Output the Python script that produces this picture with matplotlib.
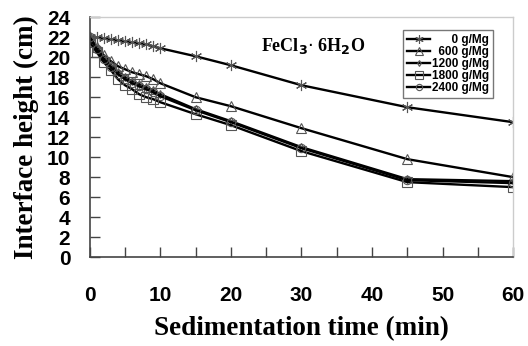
import matplotlib.pyplot as plt
from matplotlib import font_manager

# Sedimentation data
time_min = [0, 1, 2, 3, 4, 5, 6, 7, 8, 9, 10, 15, 20, 30, 45, 60]
h_0 = [22.0, 22.0, 21.9, 21.8, 21.7, 21.6, 21.5, 21.4, 21.3, 21.1, 20.9, 20.1, 19.2, 17.2, 15.0, 13.5]
h_600 = [22.0, 21.0, 20.2, 19.6, 19.1, 18.8, 18.5, 18.3, 18.1, 17.8, 17.4, 16.0, 15.1, 12.9, 9.8, 8.0]
h_1200 = [22.0, 20.9, 19.9, 19.2, 18.5, 18.0, 17.6, 17.3, 17.0, 16.7, 16.3, 14.8, 13.6, 11.0, 7.8, 7.6]
h_1800 = [21.5, 20.5, 19.5, 18.7, 17.8, 17.2, 16.8, 16.3, 16.0, 15.8, 15.5, 14.3, 13.2, 10.6, 7.5, 7.0]
h_2400 = [22.0, 20.8, 19.8, 19.0, 18.3, 17.8, 17.4, 17.1, 16.8, 16.5, 16.1, 14.7, 13.5, 10.9, 7.7, 7.4]
# figure spaces (U+2007) keep the numbers right-aligned in the legend
labels = ['\u2007\u2007\u20070 g/Mg', '\u2007600 g/Mg', '1200 g/Mg', '1800 g/Mg', '2400 g/Mg']

names = {f.name for f in font_manager.fontManager.ttflist}
narrow = 'Liberation Sans Narrow' if 'Liberation Sans Narrow' in names else 'Liberation Sans'

fig = plt.figure(figsize=(5.28, 3.46), dpi=100)
ax = fig.add_axes([0.170, 0.257, 0.802, 0.693])

series = [h_0, h_600, h_1200, h_1800, h_2400]
markers = ['x', '^', 'd', 's', 'o']
msizes = [8, 7, 4, 7, 6]
for h, m, ms, lab in zip(series, markers, msizes, labels):
    if m == 'x':
        ax.plot(time_min, h, color='black', lw=1.7, marker=(6, 2, 0), ms=ms,
                mec='#555555', mew=0.8, label=lab)
    else:
        ax.plot(time_min, h, color='black', lw=1.7, marker=m, ms=ms, mfc='none',
                mec='#555555', mew=0.8, label=lab)

ax.set_xlim(0, 60)
ax.set_ylim(0, 24)
ax.set_xticks(range(0, 61, 10))
ax.set_xticks(range(0, 61, 5), minor=True)
ax.set_yticks(range(0, 25, 2))
ax.tick_params(axis='both', direction='in', length=7, width=1, color='#444444')
ax.tick_params(axis='x', which='minor', direction='in', length=7, width=1, color='#444444')
ax.tick_params(axis='x', pad=21)
ax.tick_params(axis='y', pad=14)

for t in ax.get_xticklabels():
    t.set_fontfamily('Liberation Sans')
    t.set_fontweight('bold')
    t.set_fontsize(15)
for t in ax.get_yticklabels():
    t.set_fontfamily(narrow)
    t.set_fontweight('bold')
    t.set_fontsize(15)

for s in ['left', 'bottom']:
    ax.spines[s].set_color('#444444')
    ax.spines[s].set_linewidth(1.2)
for s in ['top', 'right']:
    ax.spines[s].set_color('#cccccc')
    ax.spines[s].set_linewidth(1.0)

ax.set_xlabel('Sedimentation time (min)', fontfamily='Liberation Serif',
              fontweight='bold', fontsize=19.5, labelpad=8)
ax.set_ylabel('Interface height (cm)', fontfamily='Liberation Serif',
              fontweight='bold', fontsize=19.5, labelpad=6)

ax.text(0.405, 0.88, r'FeCl$_\mathbf{3}$$\cdot$ 6H$_\mathbf{2}$O', transform=ax.transAxes,
        fontfamily='Liberation Serif', fontweight='bold', fontsize=13, va='center')

leg = ax.legend(loc='upper right', bbox_to_anchor=(0.952, 0.948), frameon=True, fancybox=False,
                prop={'family': ['Liberation Sans', 'DejaVu Sans'], 'weight': 'bold', 'size': 8.5},
                handlelength=2.0, handletextpad=0.1, labelspacing=0.0, borderpad=0.35,
                borderaxespad=0.0, markerscale=0.75)
leg.get_frame().set_edgecolor('#555555')
leg.get_frame().set_linewidth(1.0)

fig.savefig('out.png', dpi=100)
